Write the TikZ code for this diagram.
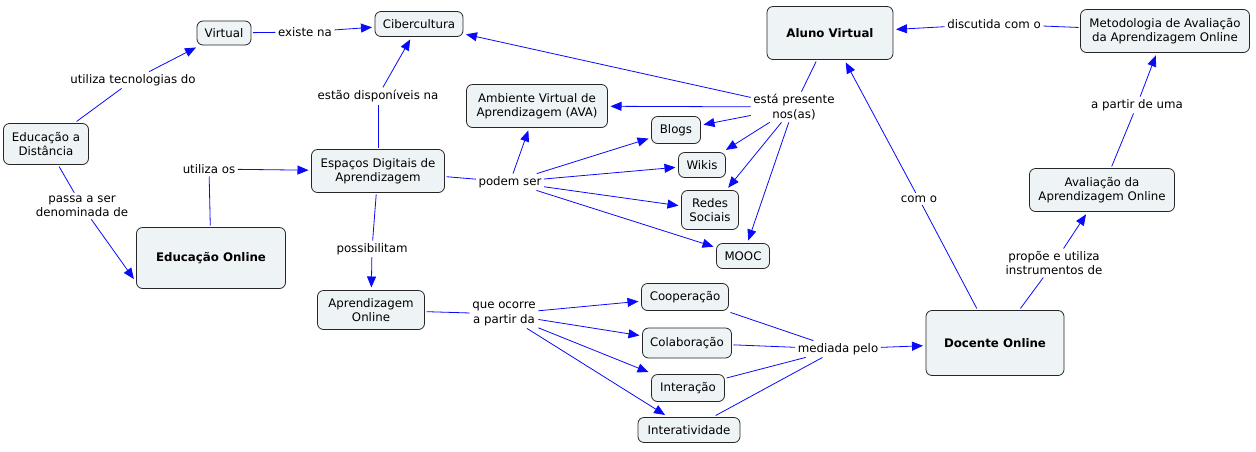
\documentclass[tikz,border=0pt]{standalone}
\usepackage{fontspec}
\setmainfont{DejaVu Sans}
\usetikzlibrary{arrows.meta}
\definecolor{cmapfill}{RGB}{238,243,245}
\definecolor{cmapblue}{RGB}{10,10,250}
\begin{document}
\begin{tikzpicture}[x=1pt,y=-1pt,
	concept/.style={draw=black!85,fill=cmapfill,rounded corners=6pt,align=center,inner sep=0pt,outer sep=2pt,line width=0.8pt,font=\fontsize{11.8}{14.3}\selectfont},
	mainconcept/.style={concept,font=\fontsize{11.8}{14.3}\selectfont\bfseries},
	linkphrase/.style={align=center,inner sep=2.5pt,font=\fontsize{11.8}{14.3}\selectfont},
	link/.style={draw=cmapblue,line width=0.8pt},
	linkto/.style={link,-{Triangle[length=11pt,width=9pt]},shorten >=1pt}]
				\useasboundingbox[fill=white] (0,0) rectangle (1256,451);
				% concepts
				\node[concept,minimum width=54,minimum height=24] (virtual) at (224,33) {Virtual};
				\node[concept,minimum width=88,minimum height=25] (ciber) at (419,24) {Cibercultura};
				\node[concept,minimum width=85,minimum height=41] (ead) at (46,144) {Educação a\\Distância};
				\node[mainconcept,minimum width=149,minimum height=61] (eduonline) at (211,258) {Educação Online};
				\node[concept,minimum width=133,minimum height=43] (espacos) at (378,171) {Espaços Digitais de\\Aprendizagem};
				\node[concept,minimum width=141,minimum height=43] (ava) at (537,106) {Ambiente Virtual de\\Aprendizagem (AVA)};
				\node[concept,minimum width=49,minimum height=27] (blogs) at (676,130) {Blogs};
				\node[concept,minimum width=47,minimum height=25] (wikis) at (702,165) {Wikis};
				\node[concept,minimum width=57,minimum height=39] (redes) at (710,210) {Redes\\Sociais};
				\node[concept,minimum width=53,minimum height=25] (mooc) at (743,256) {MOOC};
				\node[concept,minimum width=107,minimum height=39] (apronline) at (371,310) {Aprendizagem\\Online};
				\node[concept,minimum width=87,minimum height=27] (coop) at (685,297) {Cooperação};
				\node[concept,minimum width=89,minimum height=30] (colab) at (687,343) {Colaboração};
				\node[concept,minimum width=73,minimum height=27] (interacao) at (688,388) {Interação};
				\node[concept,minimum width=102,minimum height=25] (interat) at (689,430) {Interatividade};
				\node[mainconcept,minimum width=126,minimum height=53] (aluno) at (830,33) {Aluno Virtual};
				\node[concept,minimum width=169,minimum height=43] (metod) at (1165,31) {Metodologia de Avaliação\\da Aprendizagem Online};
				\node[concept,minimum width=145,minimum height=43] (avalia) at (1102,190) {Avaliação da\\Aprendizagem Online};
				\node[mainconcept,minimum width=138,minimum height=65] (docente) at (995,343) {Docente Online};
				% linking phrases
				\node[linkphrase] (utilizatec) at (133,80) {utiliza tecnologias do};
				\node[linkphrase] (existe) at (305,32) {existe na};
				\node[linkphrase] (disponiveis) at (378,96) {estão disponíveis na};
				\node[linkphrase] (utilizaos) at (209,169) {utiliza os};
				\node[linkphrase] (passa) at (82,206) {passa a ser\\denominada de};
				\node[linkphrase] (possibilitam) at (372,249) {possibilitam};
				\node[linkphrase] (podem) at (510,182) {podem ser};
				\node[linkphrase] (presente) at (794,107) {está presente\\nos(as)};
				\node[linkphrase] (ocorre) at (504,314) {que ocorre\\a partir da};
				\node[linkphrase] (mediada) at (838,349) {mediada pelo};
				\node[linkphrase] (como) at (919,199) {com o};
				\node[linkphrase] (discutida) at (994,24) {discutida com o};
				\node[linkphrase] (apartir) at (1137,105) {a partir de uma};
				\node[linkphrase] (propoe) at (1054,263) {propõe e utiliza\\instrumentos de};
				% connectors
				\draw[link] (ead)--(utilizatec);
				\draw[linkto] (utilizatec)--(virtual);
				\draw[link] (virtual)--(existe);
				\draw[linkto] (existe)--(ciber);
				\draw[link] (ead)--(passa);
				\draw[linkto] (passa.-55)--(eduonline.196);
				\draw[link] (eduonline)--(utilizaos);
				\draw[linkto] (utilizaos)--(espacos);
				\draw[link] (espacos)--(disponiveis);
				\draw[linkto] (disponiveis)--(ciber);
				\draw[link] (espacos)--(possibilitam);
				\draw[linkto] (possibilitam)--(apronline);
				\draw[link] (espacos)--(podem);
				\draw[linkto] (podem)--(ava);
				\draw[linkto] (podem)--(blogs);
				\draw[linkto] (podem)--(wikis);
				\draw[linkto] (podem)--(redes);
				\draw[linkto] (podem)--(mooc);
				\draw[link] (aluno)--(presente);
				\draw[linkto] (presente)--(ciber);
				\draw[linkto] (presente)--(ava);
				\draw[linkto] (presente)--(blogs);
				\draw[linkto] (presente)--(wikis);
				\draw[linkto] (presente)--(redes);
				\draw[linkto] (presente)--(mooc);
				\draw[link] (apronline)--(ocorre);
				\draw[linkto] (ocorre)--(coop);
				\draw[linkto] (ocorre)--(colab);
				\draw[linkto] (ocorre)--(interacao);
				\draw[linkto] (ocorre)--(interat);
				\draw[link] (coop)--(mediada);
				\draw[link] (colab)--(mediada);
				\draw[link] (interacao)--(mediada);
				\draw[link] (interat)--(mediada);
				\draw[linkto] (mediada)--(docente);
				\draw[link] (docente)--(como);
				\draw[linkto] (como)--(aluno);
				\draw[link] (docente)--(propoe);
				\draw[linkto] (propoe)--(avalia);
				\draw[link] (avalia)--(apartir);
				\draw[linkto] (apartir)--(metod);
				\draw[link] (metod)--(discutida);
				\draw[linkto] (discutida)--(aluno);
			\end{tikzpicture}
\end{document}
